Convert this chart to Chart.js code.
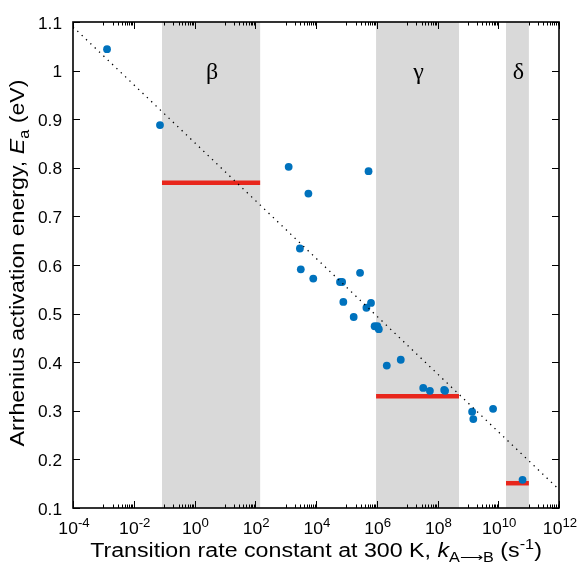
<!DOCTYPE html>
<html>
<head>
<meta charset="utf-8">
<script src="https://cdn.jsdelivr.net/npm/chart.js@4/dist/chart.umd.min.js"></script>
<style>
  body { margin: 0; background: #fff; }
  canvas { display: block; }
</style>
</head>
<body>
<canvas id="arrheniusChart" width="579" height="567"></canvas>
<script>
'use strict';

// measured rate constants (s^-1) and activation energies (eV)
const rateK = [1.32e-3, 7.31e-2, 1.26e3, 5.62e3, 5.37e5, 2.95e3, 3.16e3, 8.13e3, 2.82e5,
    6.17e4, 7.24e4, 7.94e4, 6.46e5, 4.57e5, 1.74e5, 8.51e5, 1.05e6, 1.17e6, 2.14e6,
    6.17e6, 3.39e7, 5.62e7, 1.66e8, 1.78e8, 1.38e9, 1.51e9, 6.76e9, 6.31e10];
const energyEa = [1.044, 0.888, 0.802, 0.747, 0.793, 0.634, 0.591, 0.572, 0.584,
    0.565, 0.565, 0.524, 0.522, 0.512, 0.493, 0.474, 0.474, 0.468, 0.393,
    0.405, 0.347, 0.341, 0.343, 0.341, 0.298, 0.283, 0.304, 0.158];

// shaded regions and their mean barrier
const bandNames = ['β', 'γ', 'δ'];
const bandStart = [0.085, 9.5e5, 1.8e10];
const bandEnd = [145, 5.1e8, 1.02e11];
const bandEnergy = [0.769, 0.330, 0.151];

// dotted reference line (kT ln(A/k) at 300 K)
const guideK = [1e-4, 1e12];
const guideEa = [1.090, 0.138];

const xTickExp = [-4, -2, 0, 2, 4, 6, 8, 10, 12];
const yTicks = [0.1, 0.2, 0.3, 0.4, 0.5, 0.6, 0.7, 0.8, 0.9, 1.0, 1.1];

const SANS = '"Liberation Sans", Arial, sans-serif';
const SERIF = '"Liberation Serif", "Times New Roman", serif';

// draw a list of [text, font, dy] pieces one after another, stretched by sx
function drawPieces(ctx, pieces, x, y, align, sx) {
    let total = 0;
    pieces.forEach(p => { ctx.font = p[1]; total += ctx.measureText(p[0]).width; });
    ctx.save();
    ctx.translate(x, y);
    ctx.scale(sx || 1, 1);
    let cx = align === 'center' ? -total / 2 : (align === 'right' ? -total : 0);
    ctx.textAlign = 'left';
    ctx.textBaseline = 'alphabetic';
    pieces.forEach(p => {
        ctx.font = p[1];
        ctx.fillText(p[0], cx, p[2]);
        cx += ctx.measureText(p[0]).width;
    });
    ctx.restore();
}

const decorPlugin = {
    id: 'decor',
    beforeDatasetsDraw(chart) {
        const ctx = chart.ctx;
        const xs = chart.scales.x;
        const area = chart.chartArea;
        ctx.save();
        ctx.fillStyle = '#d9d9d9';
        for (let i = 0; i < bandStart.length; i++) {
            const x0 = xs.getPixelForValue(bandStart[i]);
            const x1 = xs.getPixelForValue(bandEnd[i]);
            ctx.fillRect(x0, area.top, x1 - x0, area.bottom - area.top);
        }
        ctx.restore();
    },
    afterDatasetsDraw(chart) {
        const ctx = chart.ctx;
        const xs = chart.scales.x;
        const ys = chart.scales.y;
        const a = chart.chartArea;
        ctx.save();

        // greek labels
        ctx.fillStyle = '#000';
        ctx.font = '24px ' + SERIF;
        ctx.textAlign = 'center';
        ctx.textBaseline = 'middle';
        for (let i = 0; i < bandNames.length; i++) {
            const cx = (xs.getPixelForValue(bandStart[i]) + xs.getPixelForValue(bandEnd[i])) / 2;
            ctx.fillText(bandNames[i], cx + 1, ys.getPixelForValue(0.996));
        }

        // inward ticks
        ctx.strokeStyle = '#000';
        ctx.lineWidth = 1;
        ctx.beginPath();
        yTicks.forEach(v => {
            const py = Math.round(ys.getPixelForValue(v)) + 0.5;
            ctx.moveTo(a.left, py); ctx.lineTo(a.left + 7, py);
            ctx.moveTo(a.right, py); ctx.lineTo(a.right - 7, py);
        });
        xTickExp.forEach(e => {
            const px = Math.round(xs.getPixelForValue(Math.pow(10, e))) + 0.5;
            ctx.moveTo(px, a.bottom); ctx.lineTo(px, a.bottom - 7);
            ctx.moveTo(px, a.top); ctx.lineTo(px, a.top + 7);
            if (e < 12) {
                for (let m = 1; m <= 9; m++) {
                    const mx = Math.round(xs.getPixelForValue(m * Math.pow(10, e + 1))) + 0.5;
                    ctx.moveTo(mx, a.bottom); ctx.lineTo(mx, a.bottom - 3.5);
                    ctx.moveTo(mx, a.top); ctx.lineTo(mx, a.top + 3.5);
                }
            }
        });
        ctx.stroke();

        // frame
        ctx.lineWidth = 1.6;
        ctx.strokeRect(a.left, a.top, a.right - a.left, a.bottom - a.top);
        ctx.restore();
    },
    afterDraw(chart) {
        const ctx = chart.ctx;
        const xs = chart.scales.x;
        const ys = chart.scales.y;
        const a = chart.chartArea;
        ctx.save();
        ctx.fillStyle = '#000';

        // y tick labels
        yTicks.forEach(v => {
            const txt = Math.abs(v - 1) < 1e-9 ? '1' : v.toFixed(1);
            drawPieces(ctx, [[txt, '16px ' + SANS, 0]], a.left - 11, ys.getPixelForValue(v) + 6.5, 'right', 1.08);
        });

        // x tick labels: 10^n
        xTickExp.forEach(e => {
            const px = xs.getPixelForValue(Math.pow(10, e));
            drawPieces(ctx, [
                ['10', '16px ' + SANS, 0],
                [e < 0 ? '-' + Math.abs(e) : String(e), '12px ' + SANS, -7]
            ], px + 1, a.bottom + 26, 'center', 1.1);
        });

        // x title
        const midX = (a.left + a.right) / 2;
        drawPieces(ctx, [
            ['Transition rate constant at 300 K, ', '20px ' + SANS, 0],
            ['k', 'italic 20px ' + SANS, 0],
            ['A\u27F6B', '14px ' + SANS, 5],
            [' (s', '20px ' + SANS, 0],
            ['-1', '14px ' + SANS, -8],
            [')', '20px ' + SANS, 0]
        ], midX, a.bottom + 49, 'center', 1.16);

        // y title (rotated)
        ctx.translate(24, 263);
        ctx.rotate(-Math.PI / 2);
        drawPieces(ctx, [
            ['Arrhenius activation energy, ', '20px ' + SANS, 0],
            ['E', 'italic 20px ' + SANS, 0],
            ['a', '14px ' + SANS, 5],
            [' (eV)', '20px ' + SANS, 0]
        ], 0, 0, 'center', 1.16);
        ctx.restore();
    }
};

function chartInit() {
    const ctx = document.getElementById('arrheniusChart').getContext('2d');
    const redLines = bandNames.map((name, i) => ({
        label: name + ' mean',
        type: 'line',
        data: [{ x: bandStart[i], y: bandEnergy[i] }, { x: bandEnd[i], y: bandEnergy[i] }],
        borderColor: '#e8261c',
        borderWidth: 4.5,
        pointRadius: 0,
        fill: false,
        order: 3
    }));
    return new Chart(ctx, {
        type: 'scatter',
        data: {
            datasets: [
                {
                    label: 'guide',
                    type: 'line',
                    data: guideK.map((k, i) => ({ x: k, y: guideEa[i] })),
                    borderColor: '#000',
                    borderWidth: 1.3,
                    borderDash: [1.3, 4.7],
                    pointRadius: 0,
                    fill: false,
                    order: 0
                },
                {
                    label: 'calculated',
                    data: rateK.map((k, i) => ({ x: k, y: energyEa[i] })),
                    backgroundColor: '#0072bd',
                    borderWidth: 0,
                    pointRadius: 3.9,
                    order: 1
                },
                ...redLines
            ]
        },
        options: {
            responsive: false,
            animation: false,
            devicePixelRatio: 1,
            layout: { padding: { left: 73, top: 22, right: 20, bottom: 59 } },
            plugins: { legend: { display: false }, tooltip: { enabled: false } },
            scales: {
                x: { type: 'logarithmic', min: 1e-4, max: 1e12, display: false },
                y: { type: 'linear', min: 0.1, max: 1.1, display: false }
            }
        },
        plugins: [decorPlugin]
    });
}

chartInit();
</script>
</body>
</html>
